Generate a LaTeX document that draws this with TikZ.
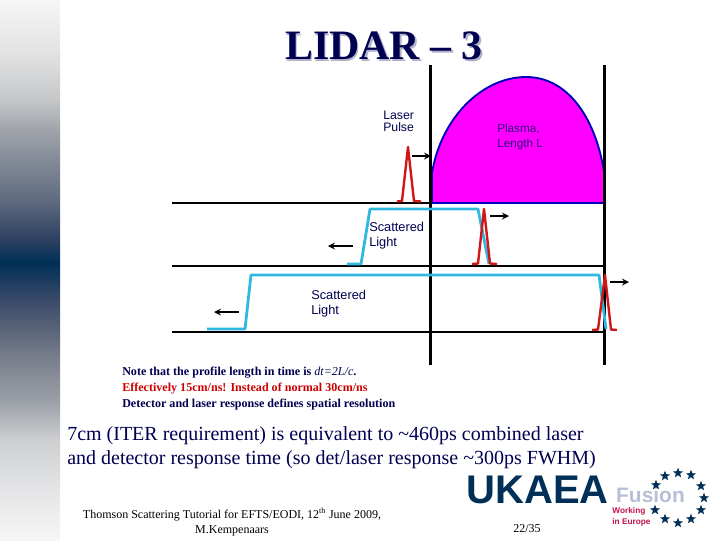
\documentclass[tikz,border=0pt]{standalone}
\usepackage{fontspec}
\setmainfont{Liberation Serif}
\newfontfamily\arialfont{Liberation Sans}
\usetikzlibrary{shapes.geometric,arrows,calc}
\definecolor{slidenavy}{HTML}{000050}
\definecolor{ukaeablue}{HTML}{003057}
\definecolor{lightcyan}{HTML}{30B8E0}
\definecolor{pulsered}{HTML}{D01818}
\definecolor{plasmapink}{HTML}{FF00FF}
\definecolor{plasmatext}{HTML}{30087C}
\definecolor{fusiongrey}{HTML}{B8BED6}
\definecolor{workingred}{HTML}{C0144C}
\definecolor{sidetop}{HTML}{F6F6F6}
\definecolor{sideb}{HTML}{E4E4E4}
\definecolor{sidec}{HTML}{C4C6C8}
\definecolor{sided}{HTML}{A0A4AA}
\definecolor{sidee}{HTML}{5F6B80}
\definecolor{sidef}{HTML}{2C4060}
\definecolor{sideg}{HTML}{3A4A68}
\definecolor{sideh}{HTML}{7A808C}
\definecolor{sidei}{HTML}{9A9EA6}
\definecolor{sidej}{HTML}{CCCED0}
\definecolor{sidek}{HTML}{E0E1E3}
\pgfdeclareverticalshading{sidebar}{100bp}{
  color(0bp)=(sidetop);
  color(25bp)=(sidetop);
  color(30.6bp)=(sidek);
  color(34.3bp)=(sidej);
  color(38bp)=(sidei);
  color(41.7bp)=(sideh);
  color(47.2bp)=(sideg);
  color(50.7bp)=(ukaeablue);
  color(52.8bp)=(sidef);
  color(56.5bp)=(sidee);
  color(63bp)=(sided);
  color(65.7bp)=(sidec);
  color(70.4bp)=(sideb);
  color(75bp)=(sidetop);
  color(100bp)=(sidetop)}

\begin{document}
\begin{tikzpicture}[
  x=0.75pt,y=-0.75pt,
  baseline/.style={line width=2.2pt,black},
  wall/.style={line width=2.2pt,black},
  pulse/.style={line width=1.8pt,pulsered,line join=round},
  scatter/.style={line width=2.1pt,lightcyan,line join=round},
  arrow/.style={-stealth,line width=1.3pt,black},
  label/.style={inner sep=0pt,anchor=north west,align=left,text=slidenavy,
                font=\arialfont\fontsize{9.6}{11.4}\selectfont},
  note/.style={inner sep=0pt,anchor=base west,font=\bfseries\fontsize{9.05}{10}\selectfont},
  big/.style={inner sep=0pt,anchor=north west,align=left,text=slidenavy,
              font=\fontsize{15}{18}\selectfont},
  euro/.style={star,star points=5,star point ratio=2.4,fill=ukaeablue,inner sep=0pt,minimum size=8pt}
]
\useasboundingbox (0,0) rectangle (720,540);
\shade[shading=sidebar] (0,0) rectangle (60,540);

\node[inner sep=0pt,text=slidenavy!30!white,font=\bfseries\fontsize{31.4}{32}\selectfont] (titleshadow) at (385.5,47.5) {LIDAR -- 3};
\node[inner sep=0pt,text=slidenavy,font=\bfseries\fontsize{31.4}{32}\selectfont] (title) at (384,46) {LIDAR -- 3};

\fill[plasmapink,draw=blue!75!black,line width=1.4pt] (432,203) -- (432,173)
  .. controls (441,118) and (482,77) .. (526,77)
  .. controls (570,77) and (597,122) .. (604.5,175) -- (604.5,203) -- cycle;

\coordinate (topleft) at (172,203);
\coordinate (topright) at (431,203);
\coordinate (midleft) at (172,266);
\coordinate (midright) at (605,266);
\coordinate (lowleft) at (172,332);
\coordinate (lowright) at (605,332);
\coordinate (walltop) at (430.5,65);
\coordinate (wallbot) at (430.5,365);
\coordinate (endtop) at (604.5,65);
\coordinate (endbot) at (604.5,365);

\draw[baseline] (topleft) -- (topright);
\draw[baseline] (midleft) -- (midright);
\draw[baseline] (lowleft) -- (lowright);
\draw[wall] (walltop) -- (wallbot);
\draw[wall] (endtop) -- (endbot);

\draw[scatter] (347,264) -- (361,264) -- (370,209) -- (478,209) -- (489,264);
\draw[scatter] (207,329) -- (245,329) -- (251,275) -- (599,275) -- (606,329);

\draw[pulse] (397,201.5) -- (402,201) -- (408,147) -- (414,201) -- (421,201.5);
\draw[pulse] (472,264) -- (478,263.5) -- (484,209) -- (490,263.5) -- (497,264);
\draw[pulse] (592,330) -- (598,329.5) -- (605,275) -- (611,329.5) -- (617,330);

\coordinate (a1s) at (412,156);  \coordinate (a1e) at (431,156);
\coordinate (a2s) at (490,216);  \coordinate (a2e) at (509,216);
\coordinate (a3s) at (610,282);  \coordinate (a3e) at (629,282);
\coordinate (b1s) at (353,246);  \coordinate (b1e) at (328,246);
\coordinate (b2s) at (239,312);  \coordinate (b2e) at (214,312);
\draw[arrow] (a1s) -- (a1e);
\draw[arrow] (a2s) -- (a2e);
\draw[arrow] (a3s) -- (a3e);
\draw[arrow] (b1s) -- (b1e);
\draw[arrow] (b2s) -- (b2e);

\node[label,font=\arialfont\fontsize{9.2}{9}\selectfont] (laser) at (383,111) {Laser\\Pulse};
\node[label,text=plasmatext,font=\arialfont\fontsize{8.8}{11.4}\selectfont] (plasma) at (497,124) {Plasma,\\Length L};
\node[label] (scatterA) at (369,221.5) {Scattered\\Light};
\node[label] (scatterB) at (311,290) {Scattered\\Light};

\node[note,text=slidenavy] (noteA) at (122,375) {Note that the profile length in time is \textit{\mdseries dt=2L/c}.};
\node[note,text=red!80!black] (noteB) at (122,391) {Effectively 15cm/ns! Instead of normal 30cm/ns};
\node[note,text=slidenavy] (noteC) at (122,407) {Detector and laser response defines spatial resolution};

\node[big] (require) at (67,426) {7cm (ITER requirement) is equivalent to \textasciitilde460ps combined laser\\and detector response time (so det/laser response \textasciitilde300ps FWHM)};

\node[inner sep=0pt,align=center,font=\fontsize{9}{11.2}\selectfont] (footer) at (232,522) {Thomson Scattering Tutorial for EFTS/EODI, 12\textsuperscript{th} June 2009,\\M.Kempenaars};
\node[inner sep=0pt,font=\fontsize{9}{11}\selectfont] (page) at (527,529) {22/35};

\node[inner sep=0pt,text=ukaeablue,font=\arialfont\bfseries\fontsize{30}{32}\selectfont] (ukaea) at (537.5,490) {UKAEA};
\node[inner sep=0pt,text=fusiongrey,font=\arialfont\bfseries\fontsize{15.7}{16}\selectfont] (fusion) at (650.5,495.5) {Fusion};
\node[inner sep=0pt,align=left,text=workingred,font=\arialfont\bfseries\fontsize{6.2}{8.2}\selectfont] (working) at (631.5,517) {Working\\in Europe};

\foreach \sx/\sy [count=\i] in {678/473,691/475,701/486,704/498,701/510,691/519,678/523,665/519,655/510,656/485,665/476}{
  \node[euro] (star\i) at (\sx,\sy) {};
}
\end{tikzpicture}
\end{document}
